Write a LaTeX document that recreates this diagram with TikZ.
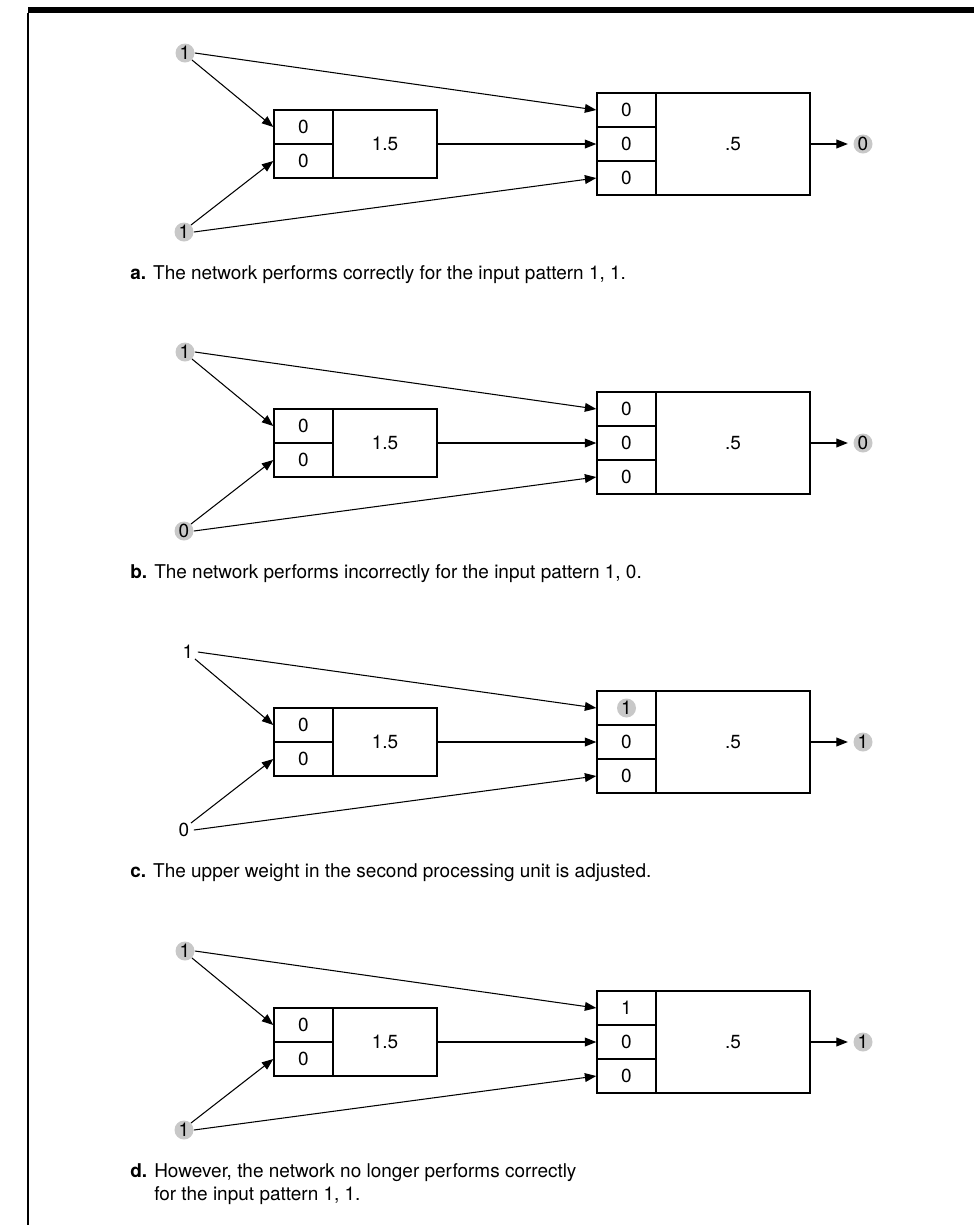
\documentclass[tikz,border=0pt]{standalone}
\usepackage{fontspec}
\setmainfont{TeX Gyre Heros}
\usetikzlibrary{arrows.meta}
\definecolor{hlgray}{RGB}{200,200,200}

\begin{document}
\begin{tikzpicture}[x=0.02cm,y=-0.02cm,
  font={\fontsize{10.8}{13}\selectfont},
  cell/.style={rectangle,draw,line width=0.8pt,minimum width=1.18cm,
               minimum height=0.68cm,inner sep=0pt},
  unit/.style={rectangle,draw,line width=0.8pt,inner sep=0pt},
  inp/.style={circle,inner sep=0pt,minimum size=0.38cm},
  hl/.style={fill=hlgray},
  hlcell/.style={path picture={\fill[hlgray] (path picture bounding box.center) circle (0.19cm);}},
  arrow/.style={-{Triangle[length=6.5pt,width=5pt]},line width=0.6pt},
  caption/.style={anchor=north west,inner sep=0pt,align=left}]
\useasboundingbox (0,0) rectangle (974,1225);
\fill (28,7) rectangle (974,13);
\draw[line width=0.8pt] (28,13) -- (28,1225);

\begin{scope}[shift={(0,144)}]
\node[inp,hl] (a-in1) at (185,-91) {1};
\node[inp,hl] (a-in2) at (184,88) {1};
\node[cell] (a-u1) at (303.5,-17) {0};
\node[cell] (a-u2) at (303.5,17) {0};
\node[unit,minimum width=2.08cm,minimum height=1.36cm] (a-u) at (385,0) {1.5};
\node[cell] (a-v1) at (626.5,-34) {0};
\node[cell] (a-v2) at (626.5,0) {0};
\node[cell] (a-v3) at (626.5,34) {0};
\node[unit,minimum width=3.08cm,minimum height=2.04cm] (a-v) at (733,0) {.5};
\node[inp,hl] (a-out) at (863,0) {0};
\draw[arrow] (a-in1.south east) -- (a-u1.west);
\draw[arrow] (a-in2.north east) -- (a-u2.west);
\draw[arrow] (a-in1.east) -- (a-v1.west);
\draw[arrow] (a-in2.east) -- (a-v3.west);
\draw[arrow] (a-u.east) -- (a-v2.west);
\draw[arrow,shorten >=3pt] (a-v.east) -- (a-out.west);
\node[caption] (a-cap) at (130,121)
  {\textbf{a.} The network performs correctly for the input pattern 1, 1.};
\end{scope}

\begin{scope}[shift={(0,443)}]
\node[inp,hl] (b-in1) at (185,-91) {1};
\node[inp,hl] (b-in2) at (184,88) {0};
\node[cell] (b-u1) at (303.5,-17) {0};
\node[cell] (b-u2) at (303.5,17) {0};
\node[unit,minimum width=2.08cm,minimum height=1.36cm] (b-u) at (385,0) {1.5};
\node[cell] (b-v1) at (626.5,-34) {0};
\node[cell] (b-v2) at (626.5,0) {0};
\node[cell] (b-v3) at (626.5,34) {0};
\node[unit,minimum width=3.08cm,minimum height=2.04cm] (b-v) at (733,0) {.5};
\node[inp,hl] (b-out) at (863,0) {0};
\draw[arrow] (b-in1.south east) -- (b-u1.west);
\draw[arrow] (b-in2.north east) -- (b-u2.west);
\draw[arrow] (b-in1.east) -- (b-v1.west);
\draw[arrow] (b-in2.east) -- (b-v3.west);
\draw[arrow] (b-u.east) -- (b-v2.west);
\draw[arrow,shorten >=3pt] (b-v.east) -- (b-out.west);
\node[caption] (b-cap) at (130,121)
  {\textbf{b.} The network performs incorrectly for the input pattern 1, 0.};
\end{scope}

\begin{scope}[shift={(0,742)}]
\node[inp] (c-in1) at (188,-90) {1};
\node[inp] (c-in2) at (184,88) {0};
\node[cell] (c-u1) at (303.5,-17) {0};
\node[cell] (c-u2) at (303.5,17) {0};
\node[unit,minimum width=2.08cm,minimum height=1.36cm] (c-u) at (385,0) {1.5};
\node[cell,hlcell] (c-v1) at (626.5,-34) {1};
\node[cell] (c-v2) at (626.5,0) {0};
\node[cell] (c-v3) at (626.5,34) {0};
\node[unit,minimum width=3.08cm,minimum height=2.04cm] (c-v) at (733,0) {.5};
\node[inp,hl] (c-out) at (863,0) {1};
\draw[arrow] (c-in1.south east) -- (c-u1.west);
\draw[arrow] (c-in2.north east) -- (c-u2.west);
\draw[arrow] (c-in1.east) -- (c-v1.west);
\draw[arrow] (c-in2.east) -- (c-v3.west);
\draw[arrow] (c-u.east) -- (c-v2.west);
\draw[arrow,shorten >=3pt] (c-v.east) -- (c-out.west);
\node[caption] (c-cap) at (130,121)
  {\textbf{c.} The upper weight in the second processing unit is adjusted.};
\end{scope}

\begin{scope}[shift={(0,1042)}]
\node[inp,hl] (d-in1) at (185,-91) {1};
\node[inp,hl] (d-in2) at (184,88) {1};
\node[cell] (d-u1) at (303.5,-17) {0};
\node[cell] (d-u2) at (303.5,17) {0};
\node[unit,minimum width=2.08cm,minimum height=1.36cm] (d-u) at (385,0) {1.5};
\node[cell] (d-v1) at (626.5,-34) {1};
\node[cell] (d-v2) at (626.5,0) {0};
\node[cell] (d-v3) at (626.5,34) {0};
\node[unit,minimum width=3.08cm,minimum height=2.04cm] (d-v) at (733,0) {.5};
\node[inp,hl] (d-out) at (863,0) {1};
\draw[arrow] (d-in1.south east) -- (d-u1.west);
\draw[arrow] (d-in2.north east) -- (d-u2.west);
\draw[arrow] (d-in1.east) -- (d-v1.west);
\draw[arrow] (d-in2.east) -- (d-v3.west);
\draw[arrow] (d-u.east) -- (d-v2.west);
\draw[arrow,shorten >=3pt] (d-v.east) -- (d-out.west);
\node[caption] (d-cap) at (130,121)
  {\textbf{d.} However, the network no longer performs correctly\\
   \phantom{\textbf{d.} }for the input pattern 1, 1.};
\end{scope}
\end{tikzpicture}
\end{document}
